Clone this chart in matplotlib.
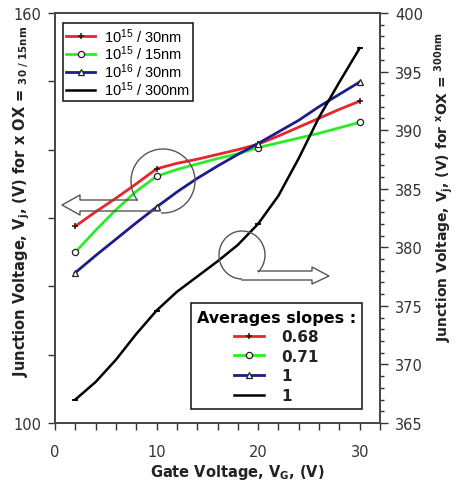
import matplotlib
matplotlib.use("Agg")
import matplotlib.pyplot as plt
from matplotlib.patches import Arc
from matplotlib.lines import Line2D

plt.rcParams['font.family'] = ['Liberation Sans', 'DejaVu Sans']
plt.rcParams['mathtext.default'] = 'regular'

# ---- data ----
vg = [2, 4, 6, 8, 10, 12, 14, 16, 18, 20, 22, 24, 26, 28, 30]
vj_15_30 = [128.8, 130.9, 132.9, 135.0, 137.2, 138.0, 138.6, 139.3, 140.0, 140.8,
            142.0, 143.3, 144.6, 145.9, 147.1]
vj_15_15 = [125.0, 128.2, 131.2, 133.9, 136.1, 137.1, 137.9, 138.7, 139.4, 140.3,
            141.0, 141.7, 142.4, 143.2, 144.0]
vj_16_30 = [122.0, 124.5, 126.9, 129.3, 131.6, 133.8, 135.8, 137.6, 139.3, 140.9,
            142.6, 144.3, 146.3, 148.1, 149.9]
vj_15_300 = [367.0, 368.5, 370.4, 372.6, 374.6, 376.2, 377.5, 378.8, 380.2, 382.0,
             384.4, 387.6, 391.1, 394.1, 397.0]
marker_idx = [0, 4, 9, 14]
series_labels = ['10$^{15}$ / 30nm', '10$^{15}$ / 15nm', '10$^{16}$ / 30nm', '10$^{15}$ / 300nm']
slope_labels = ['0.68', '0.71', '1', '1']
left_ticks = [100, 160]
x_ticks = [0, 10, 20, 30]
right_ticks = [365, 370, 375, 380, 385, 390, 395, 400]

W, H = 457, 489
fig = plt.figure(figsize=(W / 100, H / 100), dpi=100)
ax = fig.add_axes([55 / W, 1 - 424 / H, 325 / W, 410 / H])
ax2 = ax.twinx()

red, green, blue = '#e8262a', '#28ee28', '#1c1c8a'
l1, = ax.plot(vg, vj_15_30, color=red, lw=2, marker='+', ms=4, mew=1.1,
              mec='#331111', markevery=marker_idx)
l2, = ax.plot(vg, vj_15_15, color=green, lw=2, marker='o', ms=4.5, mew=0.9,
              mfc='white', mec='#222222', markevery=marker_idx)
l3, = ax.plot(vg, vj_16_30, color=blue, lw=2, marker='^', ms=5, mew=0.9,
              mfc='white', mec='#222222', markevery=marker_idx)
l4, = ax2.plot(vg, vj_15_300, color='black', lw=1.8, marker='_', ms=5, mew=1.3,
               markevery=marker_idx)
h4 = Line2D([], [], color='black', lw=1.8)

ax.set_xlim(0, 32)
ax.set_ylim(100, 160)
ax2.set_ylim(365, 400)

ax.set_xticks(x_ticks)
ax.set_xticks(range(0, 33, 2), minor=True)
ax.set_yticks(left_ticks)
ax.set_yticks(range(110, 160, 10), minor=True)
ax2.set_yticks(right_ticks)
ax2.set_yticks(range(365, 401), minor=True)
for a in (ax, ax2):
    for lab in a.get_xticklabels() + a.get_yticklabels():
        lab.set_fontfamily('DejaVu Sans')
        lab.set_fontsize(10.5)
        lab.set_color('#333333')
ax.tick_params(axis='x', which='both', direction='out', length=5, width=1, pad=10, colors='#333333')
ax.tick_params(axis='y', which='both', direction='out', length=5, width=1, pad=5, colors='#333333')
ax2.tick_params(axis='y', which='major', direction='out', length=6, width=1, pad=5, colors='#333333')
ax2.tick_params(axis='y', which='minor', direction='out', length=3, width=1, colors='#333333')
for a in (ax, ax2):
    for s in a.spines.values():
        s.set_color('#444444')
        s.set_linewidth(1.2)

# axis labels
lab_kw = dict(fontsize=10.5, fontweight='bold', color='#222222', family='DejaVu Sans')
fig.text(237 / W, 1 - 473 / H, 'Gate Voltage, V$_G$, (V)', ha='center', va='center', **lab_kw)
fig.text(22 / W, 1 - 201 / H,
         'Junction Voltage, V$_j$, (V) for x OX = $_{30\ /\ 15nm}$',
         rotation=90, ha='center', va='center', **lab_kw)
fig.text(444 / W, 1 - 187 / H,
         'Junction Voltage, V$_j$, (V) for $^{x}$OX = $^{300nm}$',
         rotation=90, ha='center', va='center',
         fontsize=10, fontweight='bold', color='#222222', family='DejaVu Sans')

# legends
leg1 = ax2.legend([l1, l2, l3, h4], series_labels, loc='upper left',
                  bbox_to_anchor=(63 / W, 1 - 24 / H), bbox_transform=fig.transFigure,
                  borderaxespad=0, fancybox=False, framealpha=1, edgecolor='#222222',
                  fontsize=10.5, handlelength=2.0, handletextpad=0.6, labelspacing=-0.05,
                  borderpad=0.2)
leg1.get_frame().set_linewidth(1.2)
ax2.add_artist(leg1)
leg2 = ax2.legend([l1, l2, l3, h4], slope_labels, loc='lower right',
                  bbox_to_anchor=(362 / W, 1 - 410 / H), bbox_transform=fig.transFigure,
                  borderaxespad=0, fancybox=False, framealpha=1, edgecolor='#222222',
                  title='Averages slopes :',
                  prop=dict(weight='bold', size=11, family='DejaVu Sans'),
                  title_fontproperties=dict(weight='bold', size=11.5, family='DejaVu Sans'),
                  handlelength=2.0, handletextpad=1.1, labelspacing=0.3, borderpad=0.4)
leg2.get_frame().set_linewidth(1.2)
for t in leg2.get_texts():
    t.set_color('#222222')


# annotation circles and arrows (figure pixels)
def P(x, y):
    return (x / W, 1 - y / H)


gray = '#555555'
fig.add_artist(Arc(P(163, 182), 64 / W, 64 / H, theta1=-94, theta2=216,
                   transform=fig.transFigure, color=gray, lw=1))
arrow1 = [(137, 201), (80, 201), (80, 196), (62, 206), (80, 216), (80, 212), (160, 212)]
fig.add_artist(Line2D([P(*p)[0] for p in arrow1], [P(*p)[1] for p in arrow1],
                      transform=fig.transFigure, color=gray, lw=1))
fig.add_artist(Arc(P(242, 256), 46 / W, 48 / H, theta1=-45, theta2=270,
                   transform=fig.transFigure, color=gray, lw=1))
arrow2 = [(258, 272), (312, 272), (312, 268), (329, 277), (312, 285), (312, 281), (242, 281)]
fig.add_artist(Line2D([P(*p)[0] for p in arrow2], [P(*p)[1] for p in arrow2],
                      transform=fig.transFigure, color=gray, lw=1))

fig.savefig('out.png', dpi=100)
